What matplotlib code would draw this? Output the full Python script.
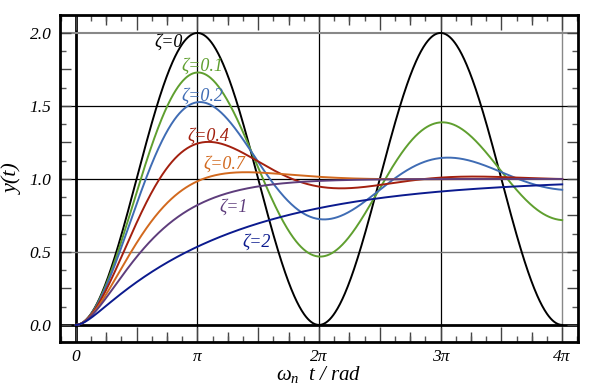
import numpy as np
import matplotlib
matplotlib.use('Agg')
import matplotlib.pyplot as plt
from matplotlib.ticker import MultipleLocator, FuncFormatter

plt.rcParams['font.family'] = ['Liberation Serif', 'DejaVu Serif']
plt.rcParams['font.style'] = 'italic'
plt.rcParams['mathtext.fontset'] = 'custom'
plt.rcParams['mathtext.it'] = 'Liberation Serif:italic'
plt.rcParams['mathtext.rm'] = 'Liberation Serif:italic'

# damping ratios and their styling
zetas = [0, 0.1, 0.2, 0.4, 0.7, 1, 2]
labels = ['ζ=0', 'ζ=0.1', 'ζ=0.2', 'ζ=0.4', 'ζ=0.7', 'ζ=1', 'ζ=2']
colors = ['#000000', '#5f9f2f', '#3f6cb4', '#a3200f', '#d2691e', '#5e3d7c', '#0b1a8e']
# label anchor points, left edge (in units of pi) and y
lab_x = [0.650, 0.872, 0.872, 0.914, 1.053, 1.177, 1.374]
lab_y = [1.934, 1.769, 1.564, 1.295, 1.103, 0.808, 0.568]

xtick_labels = ['0', 'π', '2π', '3π', '4π']


def step_response(z, t):
    # unit step response of a 2nd order system, wn = 1
    if z < 1:
        wd = np.sqrt(1 - z ** 2)
        return 1 - np.exp(-z * t) * (np.cos(wd * t) + z / wd * np.sin(wd * t))
    if z == 1:
        return 1 - np.exp(-t) * (1 + t)
    s = np.sqrt(z ** 2 - 1)
    p1, p2 = -z + s, -z - s
    return 1 + (p2 * np.exp(p1 * t) - p1 * np.exp(p2 * t)) / (p1 - p2)


t = np.linspace(0, 4 * np.pi, 800)

fig = plt.figure(figsize=(6.06, 3.90), dpi=100)
ax = fig.add_axes([60 / 606, 48 / 390, 518 / 606, 327 / 390])

# grid lines
ax.axvline(0, color='black', lw=2, zorder=1)
for k in [1, 2, 3]:
    ax.axvline(k * np.pi, color='black', lw=0.9, zorder=1)
ax.axvline(4 * np.pi, color='#888888', lw=1, zorder=1)
ax.axhline(0, color='black', lw=2, zorder=1)
ax.axhline(0.5, color='#777777', lw=1, zorder=1)
ax.axhline(1.0, color='black', lw=0.9, zorder=1)
ax.axhline(1.5, color='black', lw=0.9, zorder=1)
ax.axhline(2.0, color='#888888', lw=1.5, zorder=1)

for z, c, lab, lx, ly in zip(zetas, colors, labels, lab_x, lab_y):
    ax.plot(t, step_response(z, t), color=c, lw=1.4, zorder=3)
    ax.text(lx * np.pi, ly, lab, color=c, fontsize=13, ha='left', va='center', zorder=4)

ax.set_xlim(-0.13 * np.pi, 4.13 * np.pi)
ax.set_ylim(-0.117, 2.123)

# x ticks: labels at multiples of pi, long ticks at pi/2, short at pi/8
ax.xaxis.set_major_locator(MultipleLocator(np.pi / 2))
ax.xaxis.set_major_formatter(FuncFormatter(
    lambda v, p: xtick_labels[int(round(v / np.pi))] if abs(v / np.pi - round(v / np.pi)) < 1e-6 and 0 <= round(v / np.pi) <= 4 else ''))
ax.xaxis.set_minor_locator(MultipleLocator(np.pi / 8))
ax.yaxis.set_major_locator(MultipleLocator(0.25))
ax.yaxis.set_major_formatter(FuncFormatter(
    lambda v, p: f'{v:.1f}' if abs(v * 2 - round(v * 2)) < 1e-6 and 0 <= v <= 2 else ''))
ax.yaxis.set_minor_locator(MultipleLocator(0.125))
ax.tick_params(axis='x', which='major', direction='in', length=11, width=1, color='#444444',
               top=True, bottom=True, labelsize=12.5, pad=5)
ax.tick_params(axis='y', which='major', direction='in', length=8, width=1, color='#444444',
               left=True, right=True, labelsize=12.5, pad=6)
ax.tick_params(which='minor', direction='in', length=4, width=1, color='#555555',
               top=True, bottom=True, left=True, right=True)

for side in ['bottom', 'top']:
    sec = ax.secondary_xaxis(side)
    sec.set_xticks([k * np.pi / 4 for k in range(1, 17, 2)])
    sec.tick_params(direction='in', length=7, width=1, color='#444444', labelbottom=False, labeltop=False)
    for sp in sec.spines.values():
        sp.set_visible(False)

for sp in ax.spines.values():
    sp.set_linewidth(2)

ax.set_xlabel(r'$\omega_n\ \ t\ /\ rad$', fontsize=15, labelpad=-1)
ax.set_ylabel('y(t)', fontsize=16, labelpad=5)

fig.savefig('out.png', dpi=100)
